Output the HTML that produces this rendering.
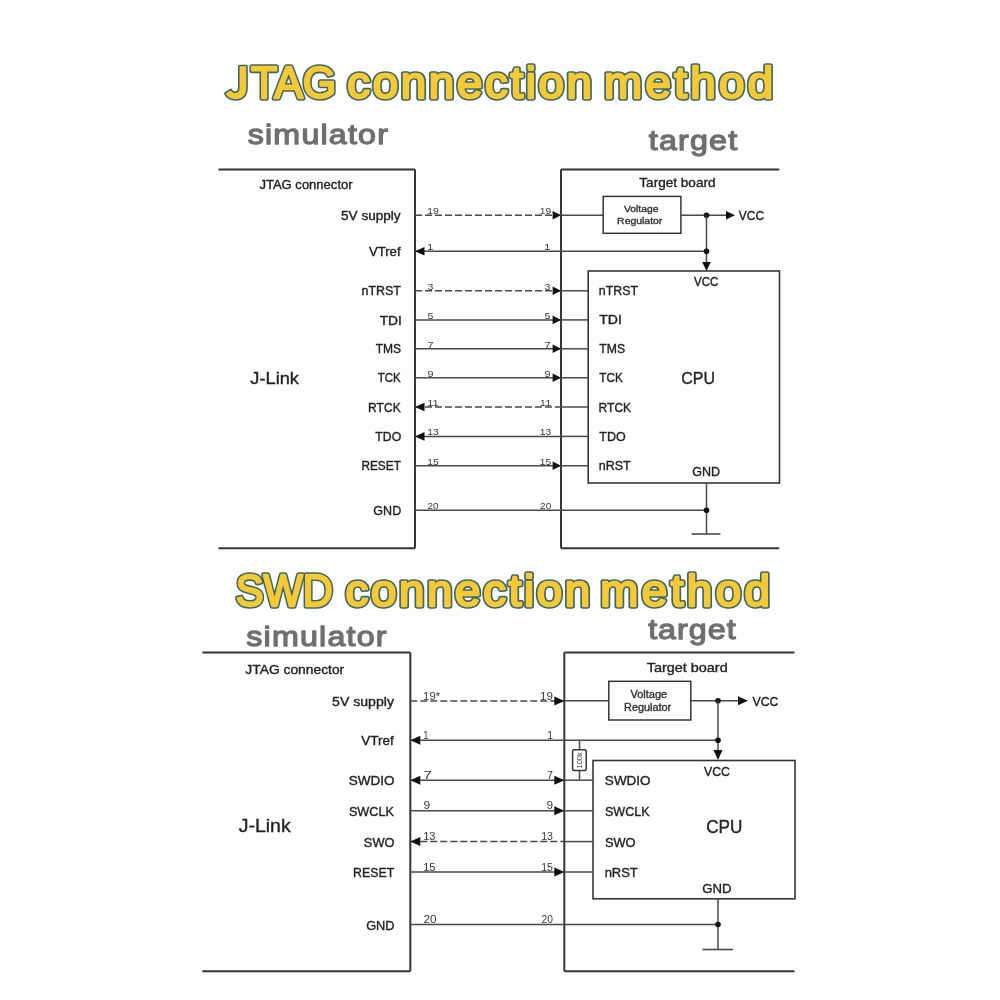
<!DOCTYPE html>
<html><head><meta charset="utf-8"><style>
html,body{margin:0;padding:0;background:#fdfdfd;width:1000px;height:1000px;overflow:hidden}
svg{display:block}
#w{width:1000px;height:1000px;will-change:transform}
text{font-family:"Liberation Sans", sans-serif}
</style></head><body><div id="w">
<svg width="1000" height="1000" viewBox="0 0 1000 1000">
<rect width="1000" height="1000" fill="#fdfdfd"/>
<path d="M239.6,66.3 L246.2,66.3 L246.2,88 C246.2,95.5 242,99.2 235.5,99.2 C231,99.2 227.5,97.3 225.6,93.6 L230.6,90.2 C231.7,92.1 233.2,93.0 235.0,93.0 C238.2,93.0 239.6,91.3 239.6,87.5 Z" fill="#F8C934" stroke="#3b6769" stroke-width="3.2" stroke-linejoin="round" paint-order="stroke"/>
<text x="251.12" y="98.30" font-size="44.5" textLength="85.23" lengthAdjust="spacingAndGlyphs" stroke-linejoin="round" fill="#3b6769" stroke="#3b6769" stroke-width="5.50">TAG</text>
<text x="251.12" y="98.30" font-size="44.5" textLength="85.23" lengthAdjust="spacingAndGlyphs" stroke-linejoin="round" fill="#F8C934" stroke="#F8C934" stroke-width="2.30">TAG</text>
<text transform="scale(1.05,1)" x="330.77" y="98.30" font-size="43.5" textLength="233.05" lengthAdjust="spacing" stroke-linejoin="round" fill="#3b6769" stroke="#3b6769" stroke-width="5.50">connection</text>
<text transform="scale(1.05,1)" x="330.77" y="98.30" font-size="43.5" textLength="233.05" lengthAdjust="spacing" stroke-linejoin="round" fill="#F8C934" stroke="#F8C934" stroke-width="2.30">connection</text>
<text transform="scale(1.05,1)" x="575.35" y="98.30" font-size="43.5" textLength="161.03" lengthAdjust="spacing" stroke-linejoin="round" fill="#3b6769" stroke="#3b6769" stroke-width="5.50">method</text>
<text transform="scale(1.05,1)" x="575.35" y="98.30" font-size="43.5" textLength="161.03" lengthAdjust="spacing" stroke-linejoin="round" fill="#F8C934" stroke="#F8C934" stroke-width="2.30">method</text>
<text transform="scale(1.13,1)" x="219.23" y="144.00" font-size="28.5" fill="#6f6f6f" stroke="#6f6f6f" stroke-width="1.25" stroke-linejoin="round" textLength="124.05" lengthAdjust="spacing">simulator</text>
<text transform="scale(1.13,1)" x="574.10" y="150.00" font-size="28.5" fill="#6f6f6f" stroke="#6f6f6f" stroke-width="1.25" stroke-linejoin="round" textLength="78.30" lengthAdjust="spacing">target</text>
<line x1="218.50" y1="169.50" x2="415.00" y2="169.50" stroke="#353535" stroke-width="2"/>
<line x1="415.00" y1="169.50" x2="415.00" y2="548.30" stroke="#353535" stroke-width="2"/>
<line x1="218.50" y1="548.30" x2="415.00" y2="548.30" stroke="#353535" stroke-width="2"/>
<line x1="561.00" y1="169.50" x2="779.20" y2="169.50" stroke="#353535" stroke-width="2"/>
<line x1="561.00" y1="169.50" x2="561.00" y2="548.30" stroke="#353535" stroke-width="2"/>
<line x1="561.00" y1="548.30" x2="779.20" y2="548.30" stroke="#353535" stroke-width="2"/>
<text x="259.40" y="189.00" font-size="12.4" font-weight="normal" fill="#222" stroke="#222" stroke-width="0.35" textLength="93.22" lengthAdjust="spacingAndGlyphs">JTAG connector</text>
<text x="250.31" y="383.60" font-size="17" font-weight="normal" fill="#222" stroke="#222" stroke-width="0.35" textLength="48.66" lengthAdjust="spacingAndGlyphs">J-Link</text>
<text x="639.30" y="187.30" font-size="12.6" font-weight="normal" fill="#222" stroke="#222" stroke-width="0.35" textLength="76.26" lengthAdjust="spacingAndGlyphs">Target board</text>
<rect x="603.2" y="196.4" width="77.70" height="36.90" rx="0" fill="none" stroke="#353535" stroke-width="1.5"/>
<text x="623.96" y="211.80" font-size="9.6" font-weight="normal" fill="#333" stroke="#333" stroke-width="0.35" textLength="34.50" lengthAdjust="spacingAndGlyphs">Voltage</text>
<text x="617.14" y="223.80" font-size="9.6" font-weight="normal" fill="#333" stroke="#333" stroke-width="0.35" textLength="45.23" lengthAdjust="spacingAndGlyphs">Regulator</text>
<rect x="588.2" y="271" width="191.30" height="212.00" rx="0" fill="none" stroke="#353535" stroke-width="1.6"/>
<text x="693.95" y="286.30" font-size="12.4" font-weight="normal" fill="#222" stroke="#222" stroke-width="0.35" textLength="24.49" lengthAdjust="spacingAndGlyphs">VCC</text>
<text x="681.19" y="383.50" font-size="17" font-weight="normal" fill="#222" stroke="#222" stroke-width="0.35" textLength="33.74" lengthAdjust="spacingAndGlyphs">CPU</text>
<text x="692.17" y="476.40" font-size="12.4" font-weight="normal" fill="#222" stroke="#222" stroke-width="0.35" textLength="27.83" lengthAdjust="spacingAndGlyphs">GND</text>
<text x="341.06" y="219.90" font-size="12.4" font-weight="normal" fill="#222" stroke="#222" stroke-width="0.35" textLength="59.57" lengthAdjust="spacingAndGlyphs">5V supply</text>
<line x1="415.00" y1="215.30" x2="561.00" y2="215.30" stroke="#4a4a4a" stroke-width="1.5" stroke-dasharray="7 3"/>
<polygon points="561.00,215.30 552.60,211.00 552.60,219.60" fill="#111"/>
<text x="427.21" y="214.00" font-size="9.8" font-weight="normal" fill="#3a3a3a" stroke="#3a3a3a" stroke-width="0" textLength="11.47" lengthAdjust="spacingAndGlyphs">19</text>
<text x="539.81" y="214.00" font-size="9.8" font-weight="normal" fill="#3a3a3a" stroke="#3a3a3a" stroke-width="0" textLength="11.47" lengthAdjust="spacingAndGlyphs">19</text>
<text x="368.94" y="255.90" font-size="12.4" font-weight="normal" fill="#222" stroke="#222" stroke-width="0.35" textLength="31.64" lengthAdjust="spacingAndGlyphs">VTref</text>
<line x1="415.00" y1="251.30" x2="561.00" y2="251.30" stroke="#4a4a4a" stroke-width="1.5"/>
<polygon points="415.00,251.30 424.50,247.00 424.50,255.60" fill="#111"/>
<text x="427.12" y="250.00" font-size="9.8" font-weight="normal" fill="#3a3a3a" stroke="#3a3a3a" stroke-width="0" textLength="6.45" lengthAdjust="spacingAndGlyphs">1</text>
<text x="544.12" y="250.00" font-size="9.8" font-weight="normal" fill="#3a3a3a" stroke="#3a3a3a" stroke-width="0" textLength="6.45" lengthAdjust="spacingAndGlyphs">1</text>
<text x="361.58" y="295.40" font-size="12.4" font-weight="normal" fill="#222" stroke="#222" stroke-width="0.35" textLength="39.31" lengthAdjust="spacingAndGlyphs">nTRST</text>
<line x1="415.00" y1="290.80" x2="561.00" y2="290.80" stroke="#4a4a4a" stroke-width="1.5" stroke-dasharray="7 3"/>
<line x1="561.00" y1="290.80" x2="588.20" y2="290.80" stroke="#4a4a4a" stroke-width="1.5"/>
<text x="598.78" y="295.30" font-size="12.4" font-weight="normal" fill="#222" stroke="#222" stroke-width="0.35" textLength="39.21" lengthAdjust="spacingAndGlyphs">nTRST</text>
<polygon points="561.00,290.80 552.60,286.50 552.60,295.10" fill="#111"/>
<text x="427.60" y="289.50" font-size="9.8" font-weight="normal" fill="#3a3a3a" stroke="#3a3a3a" stroke-width="0" textLength="5.87" lengthAdjust="spacingAndGlyphs">3</text>
<text x="544.60" y="289.50" font-size="9.8" font-weight="normal" fill="#3a3a3a" stroke="#3a3a3a" stroke-width="0" textLength="5.87" lengthAdjust="spacingAndGlyphs">3</text>
<text x="379.69" y="324.50" font-size="12.4" font-weight="normal" fill="#222" stroke="#222" stroke-width="0.35" textLength="22.18" lengthAdjust="spacingAndGlyphs">TDI</text>
<line x1="415.00" y1="319.90" x2="561.00" y2="319.90" stroke="#4a4a4a" stroke-width="1.5"/>
<line x1="561.00" y1="319.90" x2="588.20" y2="319.90" stroke="#4a4a4a" stroke-width="1.5"/>
<text x="599.28" y="324.40" font-size="12.4" font-weight="normal" fill="#222" stroke="#222" stroke-width="0.35" textLength="22.61" lengthAdjust="spacingAndGlyphs">TDI</text>
<polygon points="561.00,319.90 552.60,315.60 552.60,324.20" fill="#111"/>
<text x="427.58" y="318.60" font-size="9.8" font-weight="normal" fill="#3a3a3a" stroke="#3a3a3a" stroke-width="0" textLength="5.87" lengthAdjust="spacingAndGlyphs">5</text>
<text x="544.58" y="318.60" font-size="9.8" font-weight="normal" fill="#3a3a3a" stroke="#3a3a3a" stroke-width="0" textLength="5.87" lengthAdjust="spacingAndGlyphs">5</text>
<text x="375.73" y="353.40" font-size="12.4" font-weight="normal" fill="#222" stroke="#222" stroke-width="0.35" textLength="25.42" lengthAdjust="spacingAndGlyphs">TMS</text>
<line x1="415.00" y1="348.80" x2="561.00" y2="348.80" stroke="#4a4a4a" stroke-width="1.5"/>
<line x1="561.00" y1="348.80" x2="588.20" y2="348.80" stroke="#4a4a4a" stroke-width="1.5"/>
<text x="599.33" y="353.30" font-size="12.4" font-weight="normal" fill="#222" stroke="#222" stroke-width="0.35" textLength="25.73" lengthAdjust="spacingAndGlyphs">TMS</text>
<polygon points="561.00,348.80 552.60,344.50 552.60,353.10" fill="#111"/>
<text x="427.44" y="347.50" font-size="9.8" font-weight="normal" fill="#3a3a3a" stroke="#3a3a3a" stroke-width="0" textLength="6.12" lengthAdjust="spacingAndGlyphs">7</text>
<text x="544.44" y="347.50" font-size="9.8" font-weight="normal" fill="#3a3a3a" stroke="#3a3a3a" stroke-width="0" textLength="6.12" lengthAdjust="spacingAndGlyphs">7</text>
<text x="377.74" y="382.40" font-size="12.4" font-weight="normal" fill="#222" stroke="#222" stroke-width="0.35" textLength="22.99" lengthAdjust="spacingAndGlyphs">TCK</text>
<line x1="415.00" y1="377.80" x2="561.00" y2="377.80" stroke="#4a4a4a" stroke-width="1.5"/>
<line x1="561.00" y1="377.80" x2="588.20" y2="377.80" stroke="#4a4a4a" stroke-width="1.5"/>
<text x="599.34" y="382.30" font-size="12.4" font-weight="normal" fill="#222" stroke="#222" stroke-width="0.35" textLength="23.50" lengthAdjust="spacingAndGlyphs">TCK</text>
<polygon points="561.00,377.80 552.60,373.50 552.60,382.10" fill="#111"/>
<text x="427.49" y="376.50" font-size="9.8" font-weight="normal" fill="#3a3a3a" stroke="#3a3a3a" stroke-width="0" textLength="6.02" lengthAdjust="spacingAndGlyphs">9</text>
<text x="544.49" y="376.50" font-size="9.8" font-weight="normal" fill="#3a3a3a" stroke="#3a3a3a" stroke-width="0" textLength="6.02" lengthAdjust="spacingAndGlyphs">9</text>
<text x="368.01" y="411.60" font-size="12.4" font-weight="normal" fill="#222" stroke="#222" stroke-width="0.35" textLength="32.72" lengthAdjust="spacingAndGlyphs">RTCK</text>
<line x1="415.00" y1="407.00" x2="561.00" y2="407.00" stroke="#4a4a4a" stroke-width="1.5" stroke-dasharray="7 3"/>
<line x1="561.00" y1="407.00" x2="588.20" y2="407.00" stroke="#4a4a4a" stroke-width="1.5"/>
<text x="598.62" y="411.50" font-size="12.4" font-weight="normal" fill="#222" stroke="#222" stroke-width="0.35" textLength="32.51" lengthAdjust="spacingAndGlyphs">RTCK</text>
<polygon points="415.00,407.00 424.50,402.70 424.50,411.30" fill="#111"/>
<text x="427.21" y="405.70" font-size="9.8" font-weight="normal" fill="#3a3a3a" stroke="#3a3a3a" stroke-width="0" textLength="11.49" lengthAdjust="spacingAndGlyphs">11</text>
<text x="539.81" y="405.70" font-size="9.8" font-weight="normal" fill="#3a3a3a" stroke="#3a3a3a" stroke-width="0" textLength="11.49" lengthAdjust="spacingAndGlyphs">11</text>
<text x="375.32" y="441.00" font-size="12.4" font-weight="normal" fill="#222" stroke="#222" stroke-width="0.35" textLength="25.86" lengthAdjust="spacingAndGlyphs">TDO</text>
<line x1="415.00" y1="436.40" x2="561.00" y2="436.40" stroke="#4a4a4a" stroke-width="1.5"/>
<line x1="561.00" y1="436.40" x2="588.20" y2="436.40" stroke="#4a4a4a" stroke-width="1.5"/>
<text x="599.32" y="440.90" font-size="12.4" font-weight="normal" fill="#222" stroke="#222" stroke-width="0.35" textLength="26.28" lengthAdjust="spacingAndGlyphs">TDO</text>
<polygon points="415.00,436.40 424.50,432.10 424.50,440.70" fill="#111"/>
<text x="427.22" y="435.10" font-size="9.8" font-weight="normal" fill="#3a3a3a" stroke="#3a3a3a" stroke-width="0" textLength="11.43" lengthAdjust="spacingAndGlyphs">13</text>
<text x="539.82" y="435.10" font-size="9.8" font-weight="normal" fill="#3a3a3a" stroke="#3a3a3a" stroke-width="0" textLength="11.43" lengthAdjust="spacingAndGlyphs">13</text>
<text x="361.43" y="470.40" font-size="12.4" font-weight="normal" fill="#222" stroke="#222" stroke-width="0.35" textLength="39.44" lengthAdjust="spacingAndGlyphs">RESET</text>
<line x1="415.00" y1="465.80" x2="561.00" y2="465.80" stroke="#4a4a4a" stroke-width="1.5"/>
<line x1="561.00" y1="465.80" x2="588.20" y2="465.80" stroke="#4a4a4a" stroke-width="1.5"/>
<text x="598.77" y="470.30" font-size="12.4" font-weight="normal" fill="#222" stroke="#222" stroke-width="0.35" textLength="32.02" lengthAdjust="spacingAndGlyphs">nRST</text>
<polygon points="561.00,465.80 552.60,461.50 552.60,470.10" fill="#111"/>
<text x="427.22" y="464.50" font-size="9.8" font-weight="normal" fill="#3a3a3a" stroke="#3a3a3a" stroke-width="0" textLength="11.41" lengthAdjust="spacingAndGlyphs">15</text>
<text x="539.82" y="464.50" font-size="9.8" font-weight="normal" fill="#3a3a3a" stroke="#3a3a3a" stroke-width="0" textLength="11.41" lengthAdjust="spacingAndGlyphs">15</text>
<text x="373.37" y="514.80" font-size="12.4" font-weight="normal" fill="#222" stroke="#222" stroke-width="0.35" textLength="27.83" lengthAdjust="spacingAndGlyphs">GND</text>
<line x1="415.00" y1="510.20" x2="561.00" y2="510.20" stroke="#4a4a4a" stroke-width="1.5"/>
<text x="427.50" y="508.90" font-size="9.8" font-weight="normal" fill="#3a3a3a" stroke="#3a3a3a" stroke-width="0" textLength="11.09" lengthAdjust="spacingAndGlyphs">20</text>
<text x="540.10" y="508.90" font-size="9.8" font-weight="normal" fill="#3a3a3a" stroke="#3a3a3a" stroke-width="0" textLength="11.09" lengthAdjust="spacingAndGlyphs">20</text>
<line x1="561.00" y1="215.30" x2="603.20" y2="215.30" stroke="#4a4a4a" stroke-width="1.5"/>
<line x1="680.90" y1="215.30" x2="727.00" y2="215.30" stroke="#4a4a4a" stroke-width="1.5"/>
<polygon points="735.00,215.30 726.00,211.00 726.00,219.60" fill="#111"/>
<text x="738.85" y="219.80" font-size="12.6" font-weight="normal" fill="#222" stroke="#222" stroke-width="0.35" textLength="25.21" lengthAdjust="spacingAndGlyphs">VCC</text>
<circle cx="706.5" cy="215.3" r="2.8" fill="#111"/>
<line x1="706.50" y1="215.30" x2="706.50" y2="263.00" stroke="#4a4a4a" stroke-width="1.5"/>
<line x1="561.00" y1="251.30" x2="706.50" y2="251.30" stroke="#4a4a4a" stroke-width="1.5"/>
<circle cx="706.5" cy="251.3" r="2.8" fill="#111"/>
<polygon points="706.50,271.00 702.20,262.00 710.80,262.00" fill="#111"/>
<line x1="561.00" y1="510.20" x2="706.50" y2="510.20" stroke="#4a4a4a" stroke-width="1.5"/>
<line x1="706.50" y1="483.00" x2="706.50" y2="534.00" stroke="#4a4a4a" stroke-width="1.5"/>
<circle cx="706.5" cy="510.2" r="2.8" fill="#111"/>
<line x1="691.60" y1="534.00" x2="720.40" y2="534.00" stroke="#4a4a4a" stroke-width="1.6"/>
<text x="235.66" y="606.30" font-size="44.5" textLength="97.08" lengthAdjust="spacingAndGlyphs" stroke-linejoin="round" fill="#3b6769" stroke="#3b6769" stroke-width="5.50">SWD</text>
<text x="235.66" y="606.30" font-size="44.5" textLength="97.08" lengthAdjust="spacingAndGlyphs" stroke-linejoin="round" fill="#F8C934" stroke="#F8C934" stroke-width="2.30">SWD</text>
<text transform="scale(1.05,1)" x="329.06" y="606.30" font-size="43.5" textLength="233.05" lengthAdjust="spacing" stroke-linejoin="round" fill="#3b6769" stroke="#3b6769" stroke-width="5.50">connection</text>
<text transform="scale(1.05,1)" x="329.06" y="606.30" font-size="43.5" textLength="233.05" lengthAdjust="spacing" stroke-linejoin="round" fill="#F8C934" stroke="#F8C934" stroke-width="2.30">connection</text>
<text transform="scale(1.05,1)" x="571.73" y="606.30" font-size="43.5" textLength="161.50" lengthAdjust="spacing" stroke-linejoin="round" fill="#3b6769" stroke="#3b6769" stroke-width="5.50">method</text>
<text transform="scale(1.05,1)" x="571.73" y="606.30" font-size="43.5" textLength="161.50" lengthAdjust="spacing" stroke-linejoin="round" fill="#F8C934" stroke="#F8C934" stroke-width="2.30">method</text>
<text transform="scale(1.13,1)" x="217.99" y="646.40" font-size="28.5" fill="#6f6f6f" stroke="#6f6f6f" stroke-width="1.25" stroke-linejoin="round" textLength="124.05" lengthAdjust="spacing">simulator</text>
<text transform="scale(1.13,1)" x="573.57" y="639.00" font-size="28.5" fill="#6f6f6f" stroke="#6f6f6f" stroke-width="1.25" stroke-linejoin="round" textLength="77.41" lengthAdjust="spacing">target</text>
<line x1="202.40" y1="652.50" x2="410.30" y2="652.50" stroke="#353535" stroke-width="2"/>
<line x1="410.30" y1="652.50" x2="410.30" y2="971.20" stroke="#353535" stroke-width="2"/>
<line x1="202.40" y1="971.20" x2="410.30" y2="971.20" stroke="#353535" stroke-width="2"/>
<line x1="564.30" y1="652.50" x2="794.50" y2="652.50" stroke="#353535" stroke-width="2"/>
<line x1="564.30" y1="652.50" x2="564.30" y2="971.20" stroke="#353535" stroke-width="2"/>
<line x1="564.30" y1="971.20" x2="794.50" y2="971.20" stroke="#353535" stroke-width="2"/>
<text x="245.39" y="673.60" font-size="12.8" font-weight="normal" fill="#222" stroke="#222" stroke-width="0.35" textLength="98.84" lengthAdjust="spacingAndGlyphs">JTAG connector</text>
<text x="238.70" y="831.50" font-size="17.6" font-weight="normal" fill="#222" stroke="#222" stroke-width="0.35" textLength="51.98" lengthAdjust="spacingAndGlyphs">J-Link</text>
<text x="646.68" y="672.00" font-size="13" font-weight="normal" fill="#222" stroke="#222" stroke-width="0.35" textLength="81.03" lengthAdjust="spacingAndGlyphs">Target board</text>
<rect x="608.8" y="681.3" width="82.00" height="38.70" rx="0" fill="none" stroke="#353535" stroke-width="1.5"/>
<text x="630.45" y="698.00" font-size="10" font-weight="normal" fill="#333" stroke="#333" stroke-width="0.35" textLength="36.83" lengthAdjust="spacingAndGlyphs">Voltage</text>
<text x="624.11" y="710.50" font-size="10" font-weight="normal" fill="#333" stroke="#333" stroke-width="0.35" textLength="47.07" lengthAdjust="spacingAndGlyphs">Regulator</text>
<rect x="593" y="760.5" width="202.00" height="138.30" rx="0" fill="none" stroke="#353535" stroke-width="1.6"/>
<text x="703.95" y="776.00" font-size="13" font-weight="normal" fill="#222" stroke="#222" stroke-width="0.35" textLength="26.02" lengthAdjust="spacingAndGlyphs">VCC</text>
<text x="706.13" y="833.00" font-size="17.5" font-weight="normal" fill="#222" stroke="#222" stroke-width="0.35" textLength="36.19" lengthAdjust="spacingAndGlyphs">CPU</text>
<text x="702.34" y="893.00" font-size="13" font-weight="normal" fill="#222" stroke="#222" stroke-width="0.35" textLength="29.29" lengthAdjust="spacingAndGlyphs">GND</text>
<text x="332.14" y="706.00" font-size="13" font-weight="normal" fill="#222" stroke="#222" stroke-width="0.35" textLength="61.79" lengthAdjust="spacingAndGlyphs">5V supply</text>
<line x1="410.30" y1="701.00" x2="564.30" y2="701.00" stroke="#4a4a4a" stroke-width="1.5" stroke-dasharray="7 3"/>
<polygon points="564.30,701.00 554.30,696.50 554.30,705.50" fill="#111"/>
<text x="423.14" y="699.50" font-size="10.2" font-weight="normal" fill="#3a3a3a" stroke="#3a3a3a" stroke-width="0" textLength="17.04" lengthAdjust="spacingAndGlyphs">19*</text>
<text x="540.11" y="699.50" font-size="10.2" font-weight="normal" fill="#3a3a3a" stroke="#3a3a3a" stroke-width="0" textLength="12.94" lengthAdjust="spacingAndGlyphs">19</text>
<text x="361.24" y="745.30" font-size="13" font-weight="normal" fill="#222" stroke="#222" stroke-width="0.35" textLength="32.64" lengthAdjust="spacingAndGlyphs">VTref</text>
<line x1="410.30" y1="740.30" x2="564.30" y2="740.30" stroke="#4a4a4a" stroke-width="1.5"/>
<polygon points="410.30,740.30 420.30,735.80 420.30,744.80" fill="#111"/>
<text x="423.29" y="738.80" font-size="10.2" font-weight="normal" fill="#3a3a3a" stroke="#3a3a3a" stroke-width="0" textLength="5.16" lengthAdjust="spacingAndGlyphs">1</text>
<text x="547.20" y="738.80" font-size="10.2" font-weight="normal" fill="#3a3a3a" stroke="#3a3a3a" stroke-width="0" textLength="5.80" lengthAdjust="spacingAndGlyphs">1</text>
<text x="348.69" y="785.20" font-size="13" font-weight="normal" fill="#222" stroke="#222" stroke-width="0.35" textLength="45.86" lengthAdjust="spacingAndGlyphs">SWDIO</text>
<line x1="410.30" y1="780.20" x2="564.30" y2="780.20" stroke="#4a4a4a" stroke-width="1.5"/>
<line x1="564.30" y1="780.20" x2="593.00" y2="780.20" stroke="#4a4a4a" stroke-width="1.5"/>
<text x="604.89" y="785.10" font-size="13" font-weight="normal" fill="#222" stroke="#222" stroke-width="0.35" textLength="45.76" lengthAdjust="spacingAndGlyphs">SWDIO</text>
<polygon points="564.30,780.20 554.30,775.70 554.30,784.70" fill="#111"/>
<polygon points="410.30,780.20 420.30,775.70 420.30,784.70" fill="#111"/>
<text x="423.21" y="778.70" font-size="10.2" font-weight="normal" fill="#3a3a3a" stroke="#3a3a3a" stroke-width="0" textLength="8.56" lengthAdjust="spacingAndGlyphs">7</text>
<text x="547.05" y="778.70" font-size="10.2" font-weight="normal" fill="#3a3a3a" stroke="#3a3a3a" stroke-width="0" textLength="5.99" lengthAdjust="spacingAndGlyphs">7</text>
<text x="348.92" y="815.80" font-size="13" font-weight="normal" fill="#222" stroke="#222" stroke-width="0.35" textLength="45.12" lengthAdjust="spacingAndGlyphs">SWCLK</text>
<line x1="410.30" y1="810.80" x2="564.30" y2="810.80" stroke="#4a4a4a" stroke-width="1.5"/>
<line x1="564.30" y1="810.80" x2="593.00" y2="810.80" stroke="#4a4a4a" stroke-width="1.5"/>
<text x="604.93" y="815.70" font-size="13" font-weight="normal" fill="#222" stroke="#222" stroke-width="0.35" textLength="44.71" lengthAdjust="spacingAndGlyphs">SWCLK</text>
<polygon points="564.30,810.80 554.30,806.30 554.30,815.30" fill="#111"/>
<text x="423.44" y="809.30" font-size="10.2" font-weight="normal" fill="#3a3a3a" stroke="#3a3a3a" stroke-width="0" textLength="6.62" lengthAdjust="spacingAndGlyphs">9</text>
<text x="546.44" y="809.30" font-size="10.2" font-weight="normal" fill="#3a3a3a" stroke="#3a3a3a" stroke-width="0" textLength="6.62" lengthAdjust="spacingAndGlyphs">9</text>
<text x="363.82" y="846.60" font-size="13" font-weight="normal" fill="#222" stroke="#222" stroke-width="0.35" textLength="30.70" lengthAdjust="spacingAndGlyphs">SWO</text>
<line x1="410.30" y1="841.60" x2="564.30" y2="841.60" stroke="#4a4a4a" stroke-width="1.5" stroke-dasharray="7 3"/>
<line x1="564.30" y1="841.60" x2="593.00" y2="841.60" stroke="#4a4a4a" stroke-width="1.5"/>
<text x="604.92" y="846.50" font-size="13" font-weight="normal" fill="#222" stroke="#222" stroke-width="0.35" textLength="30.70" lengthAdjust="spacingAndGlyphs">SWO</text>
<polygon points="410.30,841.60 420.30,837.10 420.30,846.10" fill="#111"/>
<text x="423.16" y="840.10" font-size="10.2" font-weight="normal" fill="#3a3a3a" stroke="#3a3a3a" stroke-width="0" textLength="12.33" lengthAdjust="spacingAndGlyphs">13</text>
<text x="541.19" y="840.10" font-size="10.2" font-weight="normal" fill="#3a3a3a" stroke="#3a3a3a" stroke-width="0" textLength="11.77" lengthAdjust="spacingAndGlyphs">13</text>
<text x="352.99" y="877.00" font-size="13" font-weight="normal" fill="#222" stroke="#222" stroke-width="0.35" textLength="41.20" lengthAdjust="spacingAndGlyphs">RESET</text>
<line x1="410.30" y1="872.00" x2="564.30" y2="872.00" stroke="#4a4a4a" stroke-width="1.5"/>
<line x1="564.30" y1="872.00" x2="593.00" y2="872.00" stroke="#4a4a4a" stroke-width="1.5"/>
<text x="604.64" y="876.90" font-size="13" font-weight="normal" fill="#222" stroke="#222" stroke-width="0.35" textLength="33.16" lengthAdjust="spacingAndGlyphs">nRST</text>
<polygon points="564.30,872.00 554.30,867.50 554.30,876.50" fill="#111"/>
<text x="423.16" y="870.50" font-size="10.2" font-weight="normal" fill="#3a3a3a" stroke="#3a3a3a" stroke-width="0" textLength="12.31" lengthAdjust="spacingAndGlyphs">15</text>
<text x="541.20" y="870.50" font-size="10.2" font-weight="normal" fill="#3a3a3a" stroke="#3a3a3a" stroke-width="0" textLength="11.75" lengthAdjust="spacingAndGlyphs">15</text>
<text x="366.16" y="929.50" font-size="13" font-weight="normal" fill="#222" stroke="#222" stroke-width="0.35" textLength="28.35" lengthAdjust="spacingAndGlyphs">GND</text>
<line x1="410.30" y1="924.50" x2="564.30" y2="924.50" stroke="#4a4a4a" stroke-width="1.5"/>
<text x="423.41" y="923.00" font-size="10.2" font-weight="normal" fill="#3a3a3a" stroke="#3a3a3a" stroke-width="0" textLength="13.05" lengthAdjust="spacingAndGlyphs">20</text>
<text x="541.48" y="923.00" font-size="10.2" font-weight="normal" fill="#3a3a3a" stroke="#3a3a3a" stroke-width="0" textLength="11.42" lengthAdjust="spacingAndGlyphs">20</text>
<line x1="564.30" y1="700.80" x2="608.80" y2="700.80" stroke="#4a4a4a" stroke-width="1.5"/>
<line x1="690.80" y1="700.80" x2="739.00" y2="700.80" stroke="#4a4a4a" stroke-width="1.5"/>
<polygon points="748.00,700.80 738.00,696.30 738.00,705.30" fill="#111"/>
<text x="752.45" y="706.00" font-size="13" font-weight="normal" fill="#222" stroke="#222" stroke-width="0.35" textLength="26.02" lengthAdjust="spacingAndGlyphs">VCC</text>
<circle cx="718" cy="700.8" r="2.8" fill="#111"/>
<line x1="718.00" y1="700.80" x2="718.00" y2="750.00" stroke="#4a4a4a" stroke-width="1.5"/>
<line x1="564.30" y1="740.30" x2="718.00" y2="740.30" stroke="#4a4a4a" stroke-width="1.5"/>
<circle cx="718" cy="740.3" r="2.8" fill="#111"/>
<polygon points="718.00,760.00 713.50,750.00 722.50,750.00" fill="#111"/>
<line x1="579.50" y1="740.30" x2="579.50" y2="780.20" stroke="#4a4a4a" stroke-width="1.5"/>
<rect x="572.6" y="749.8" width="13.6" height="20.8" rx="1.5" fill="#fff" stroke="#353535" stroke-width="1.5"/>
<text x="0" y="0" font-size="7.5" fill="#333" transform="translate(582.2,760.4) rotate(-90)" text-anchor="middle">100k</text>
<line x1="564.30" y1="924.50" x2="718.00" y2="924.50" stroke="#4a4a4a" stroke-width="1.5"/>
<line x1="718.00" y1="898.80" x2="718.00" y2="949.50" stroke="#4a4a4a" stroke-width="1.5"/>
<circle cx="718" cy="924.5" r="2.8" fill="#111"/>
<line x1="702.50" y1="949.50" x2="733.00" y2="949.50" stroke="#4a4a4a" stroke-width="1.6"/>
</svg></div>
</body></html>
